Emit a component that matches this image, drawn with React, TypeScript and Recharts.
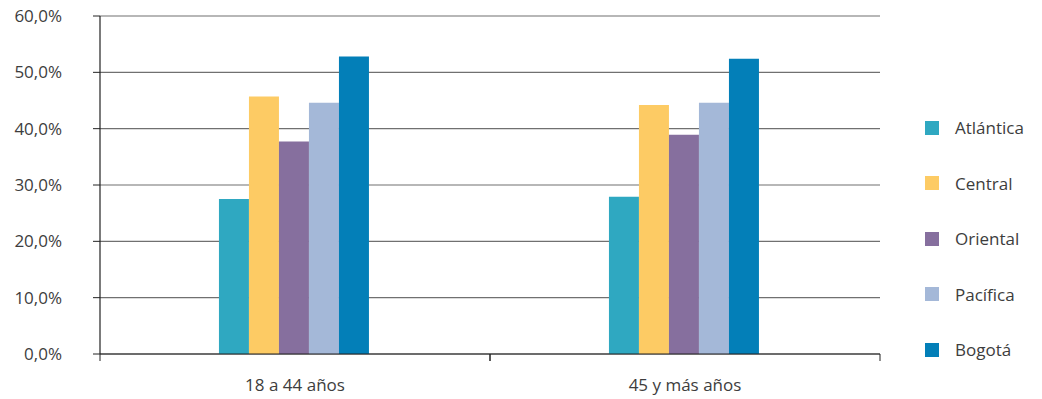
import { BarChart, Bar, XAxis, YAxis, CartesianGrid } from 'recharts';

const categories = ['18 a 44 años', '45 y más años'];
const regions = ['Atlántica', 'Central', 'Oriental', 'Pacífica', 'Bogotá'];
const colors = ['#2fa8c1', '#fdcb64', '#866f9e', '#a4b8d8', '#037fb8'];
const atlantica = [27.5, 27.9];
const central = [45.7, 44.2];
const oriental = [37.7, 38.9];
const pacifica = [44.6, 44.6];
const bogota = [52.8, 52.4];
const yTicks = [0, 10, 20, 30, 40, 50, 60];

const series = [atlantica, central, oriental, pacifica, bogota];

const data = categories.map((c, i) => {
    const row: Record<string, string | number> = { name: c };
    regions.forEach((r, j) => { row[r] = series[j][i]; });
    return row;
});

const font = '"Open Sans", "DejaVu Sans", sans-serif';
const textColor = '#3d3d3d';

const fmt = (v: number) => `${v.toFixed(1).replace('.', ',')}%`;

const CatTick = (props: any) => {
    const { x, y, payload } = props;
    const off = payload.offset || 0;
    return (
        <g>
            <line x1={x - off} x2={x - off} y1={y} y2={y + 7} stroke="#222" />
            <line x1={x + off} x2={x + off} y1={y} y2={y + 7} stroke="#222" />
            <text x={x} y={y + 37} textAnchor="middle" fill={textColor} fontSize={17} fontFamily={font}>
                {payload.value}
            </text>
        </g>
    );
};

export default function App() {
    return (
        <div style={{ position: 'absolute', left: 0, top: 0, width: 1042, height: 399, background: '#fff' }}>
            <BarChart
                width={1042}
                height={399}
                data={data}
                margin={{ top: 16, right: 162, left: 0, bottom: 0 }}
                barCategoryGap="30.5%"
                barGap={0}
            >
                <CartesianGrid vertical={false} stroke="#707070" strokeWidth={1.2} />
                <XAxis
                    dataKey="name"
                    height={45}
                    tickLine={false}
                    tickSize={0}
                    tickMargin={0}
                    axisLine={{ stroke: '#222', strokeWidth: 1.2 }}
                    tick={<CatTick />}
                    interval={0}
                />
                <YAxis
                    width={100}
                    domain={[0, 60]}
                    ticks={yTicks}
                    tickFormatter={fmt}
                    tickSize={7}
                    tickMargin={31}
                    tickLine={{ stroke: '#222' }}
                    axisLine={{ stroke: '#222', strokeWidth: 1.2 }}
                    tick={{ fill: textColor, fontSize: 17, fontFamily: font }}
                />
                {regions.map((r, i) => (
                    <Bar key={r} dataKey={r} fill={colors[i]} isAnimationActive={false} />
                ))}
            </BarChart>
            <div style={{ position: 'absolute', left: 925, top: 100, fontFamily: font, fontSize: 17, color: textColor }}>
                {regions.map((r, i) => (
                    <div key={r} style={{ display: 'flex', alignItems: 'center', height: 55.5 }}>
                        <span style={{ display: 'inline-block', width: 14, height: 14, background: colors[i], marginRight: 16 }} />
                        <span>{r}</span>
                    </div>
                ))}
            </div>
        </div>
    );
}
